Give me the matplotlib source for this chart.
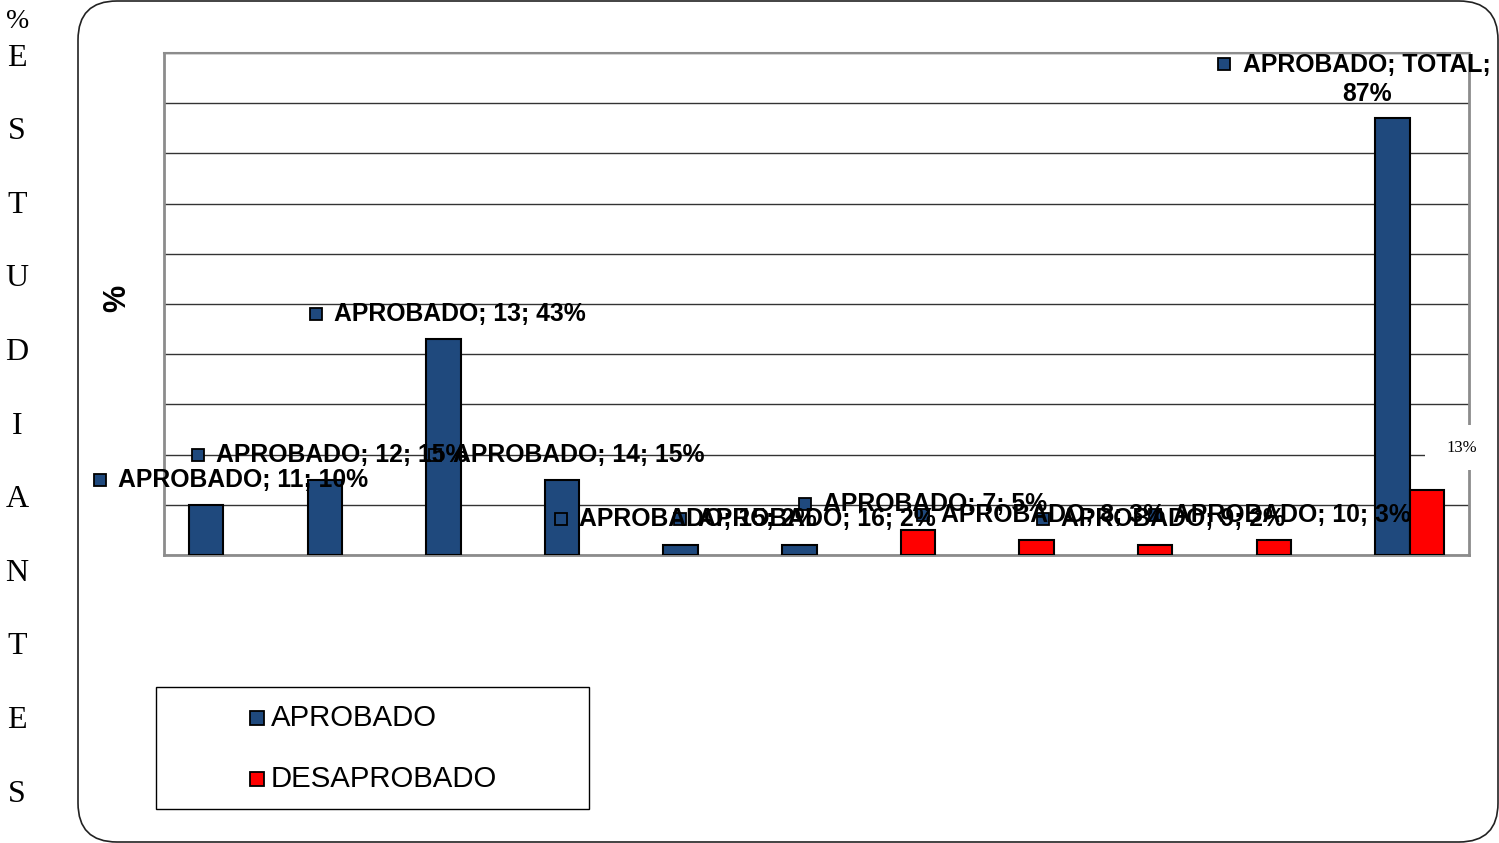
import matplotlib
matplotlib.use("Agg")
import matplotlib.pyplot as plt
from matplotlib.patches import FancyBboxPatch, Rectangle
import numpy as np

# data
categories = ["11", "12", "13", "14", "15", "16", "7", "8", "9", "10", "TOTAL"]
aprobado = [10, 15, 43, 15, 2, 2, 5, 3, 2, 3, 87]
desaprobado = [None, None, None, None, None, None, None, None, None, None, 13]
# points of the APROBADO series painted red in the original sheet
red_points = ["7", "8", "9", "10"]
side_letters = list("ESTUDIANTES")

NAVY = "#1F497D"
RED = "#FF0000"
W, H = 1499, 843


def fx(px):
    return px / W


def fy(py):
    return 1 - py / H


fig = plt.figure(figsize=(14.99, 8.43), dpi=100)

# rounded frame round the chart
frame = FancyBboxPatch((fx(78), fy(842)), fx(1498) - fx(78), fy(1) - fy(842),
                       boxstyle="round,pad=0,rounding_size=0.026",
                       transform=fig.transFigure, facecolor="white",
                       edgecolor="#222222", linewidth=1.2, zorder=0,
                       mutation_aspect=W / H)
fig.add_artist(frame)

ax = fig.add_axes([fx(164), fy(555), fx(1469) - fx(164), fy(53) - fy(555)])
ax.set_facecolor("none")
x = np.arange(len(categories))
w = 0.29

colors = [RED if c in red_points else NAVY for c in categories]
ax.bar(x - w / 2, aprobado, w, color=colors, edgecolor="black", linewidth=1.5, zorder=3)
dx = [i for i, v in enumerate(desaprobado) if v is not None]
dv = [v for v in desaprobado if v is not None]
ax.bar(x[dx] + w / 2, dv, w, color=RED, edgecolor="black", linewidth=1.5, zorder=3)

ax.set_xlim(-0.5, len(categories) - 0.5)
ax.set_ylim(0, 100)
ax.set_yticks(np.arange(0, 101, 10))
ax.yaxis.grid(True, color="#333333", linewidth=1.0, zorder=1)
ax.set_xticks([])
ax.tick_params(left=False, labelleft=False)
for s in ax.spines.values():
    s.set_color("#8c8c8c")
    s.set_linewidth(2)
ax.spines["top"].set_linewidth(1.5)

# data labels, placed by hand as in the original (marker x, text centre y, in pixels)
label_pos = [(100, 480), (198, 455), (316, 314), (435, 455), (561, 519), (680, 519),
             (805, 504), (923, 515), (1043, 519), (1155, 515)]
lab_font = dict(family="Liberation Sans", fontsize=17.8, fontweight="bold", color="black")


def marker(px, py):
    fig.add_artist(Rectangle((fx(px - 6), fy(py + 6)), 12 / W, 12 / H,
                             transform=fig.transFigure, facecolor=NAVY,
                             edgecolor="black", linewidth=1.3, zorder=10))


for (px, py), cat, val in zip(label_pos, categories, aprobado):
    marker(px, py)
    fig.text(fx(px + 18), fy(py), "APROBADO; %s; %d%%" % (cat, val),
             ha="left", va="center", zorder=11, **lab_font)

marker(1224, 64)
fig.text(fx(1243), fy(65), "APROBADO; %s;" % categories[-1], ha="left", va="center",
         zorder=11, **lab_font)
fig.text(fx(1367), fy(94), "%d%%" % aprobado[-1], ha="center", va="center",
         zorder=11, **lab_font)

# desaprobado label with white box
fig.add_artist(Rectangle((fx(1425), fy(470)), 70 / W, 45 / H, transform=fig.transFigure,
                         facecolor="white", edgecolor="none", zorder=9))
fig.text(fx(1462), fy(448), "%d%%" % dv[0], ha="center", va="center",
         family="Liberation Serif", fontsize=12, zorder=11)

# axis title
fig.text(fx(117), fy(298), "%", rotation=90, ha="center", va="center",
         family="Liberation Sans", fontsize=22, fontweight="bold")

# vertical side title
fig.text(fx(18), fy(22), "%", ha="center", va="center", family="Liberation Serif", fontsize=20)
for i, ch in enumerate(side_letters):
    fig.text(fx(17), fy(58 + i * 73.6), ch, ha="center", va="center",
             family="Liberation Serif", fontsize=23)

# legend
fig.add_artist(Rectangle((fx(156), fy(809)), fx(589) - fx(156), fy(687) - fy(809),
                         transform=fig.transFigure, facecolor="white",
                         edgecolor="black", linewidth=1, zorder=5))
for py, col, name in [(718, NAVY, "APROBADO"), (779, RED, "DESAPROBADO")]:
    fig.add_artist(Rectangle((fx(250), fy(py + 7)), 14 / W, 14 / H, transform=fig.transFigure,
                             facecolor=col, edgecolor="black", linewidth=1.3, zorder=6))
    fig.text(fx(271), fy(py), name, ha="left", va="center", family="Liberation Sans",
             fontsize=21.2, zorder=6)

fig.savefig("out.png", dpi=100)
